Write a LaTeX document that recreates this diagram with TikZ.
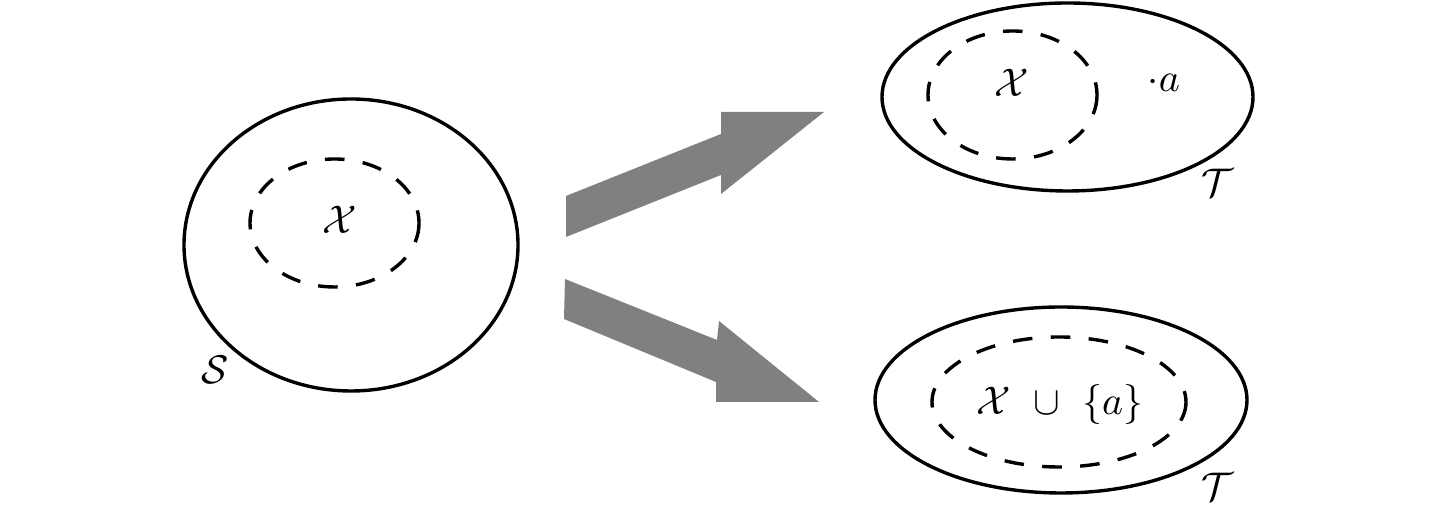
\documentclass[tikz,border=0pt]{standalone}
\usetikzlibrary{shapes.geometric}
\begin{document}
\begin{tikzpicture}[x=0.25pt,y=-0.25pt,
  setline/.style={line width=0.85pt},
  subset/.style={line width=0.85pt,dash pattern=on 4.9pt off 4.6pt},
  bigarrow/.style={fill=black!50,draw=none},
  lbl/.style={inner sep=0pt}]
\useasboundingbox (0,0) rectangle (1436,510);
% left set S
\coordinate (Sc) at (351,245);
\draw[setline] (Sc) ellipse (167 and 146);
\coordinate (SXc) at (334.5,223);
\draw[subset] (SXc) ellipse (84.5 and 64);
\node[lbl] (SX) at (340,220) {$\mathcal{X}$};
\node[lbl] (Slab) at (215,370) {$\mathcal{S}$};
% top right set T
\coordinate (T1c) at (1067.5,97);
\draw[setline] (T1c) ellipse (185.5 and 94);
\coordinate (T1Xc) at (1012.5,95);
\draw[subset] (T1Xc) ellipse (84.5 and 64);
\node[lbl] (T1X) at (1012,83) {$\mathcal{X}$};
\node[lbl] (T1a) at (1164,83) {$\cdot a$};
\node[lbl] (T1lab) at (1217,183) {$\mathcal{T}$};
% bottom right set T
\coordinate (T2c) at (1061,400);
\draw[setline] (T2c) ellipse (186 and 93);
\coordinate (T2Xc) at (1059,402);
\draw[subset] (T2Xc) ellipse (127 and 65);
\node[lbl] (T2X) at (1060,405) {$\mathcal{X}\ \cup\ \{a\}$};
\node[lbl] (T2lab) at (1217,487) {$\mathcal{T}$};
% block arrows
\fill[bigarrow] (566,196) -- (721,134) -- (721,112) -- (824,112) -- (721,194) -- (721,175) -- (566,237) -- cycle;
\fill[bigarrow] (565,279) -- (717,340) -- (719,321) -- (819,402) -- (716,402) -- (716,382) -- (564,319) -- cycle;
\end{tikzpicture}
\end{document}
